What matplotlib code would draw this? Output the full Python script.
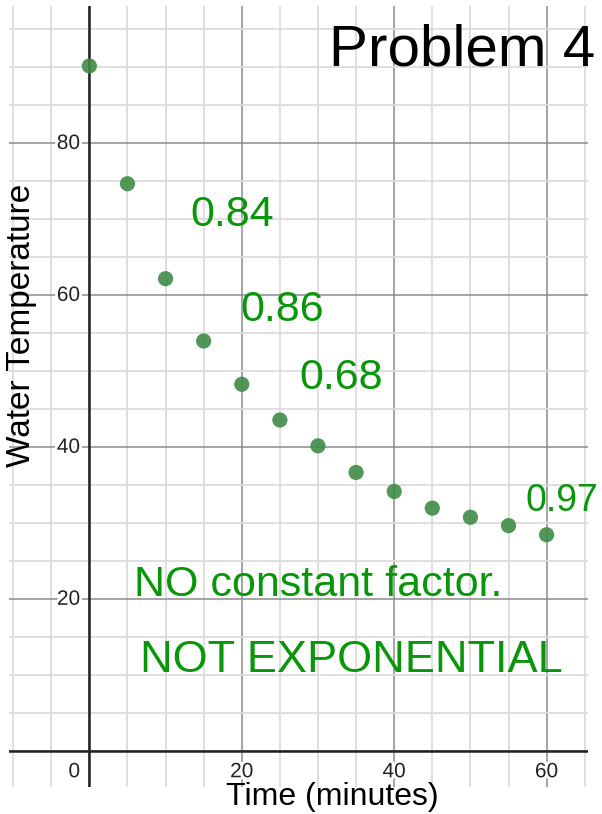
import numpy as np
import matplotlib.pyplot as plt
import matplotlib.patheffects as pe

# data
time_min = [0, 5, 10, 15, 20, 25, 30, 35, 40, 45, 50, 55, 60]
water_temp = [90.2, 74.7, 62.2, 54.0, 48.3, 43.6, 40.2, 36.7, 34.2, 32.0, 30.8, 29.7, 28.5]

x_ticks = [20, 40, 60]
y_ticks = [20, 40, 60, 80]

# handwritten notes: text, x, y (data units)
notes = ["0.84", "0.86", "0.68", "0.97"]
note_x = [13.2, 19.8, 27.6, 57.2]
note_y = [70.6, 58.1, 49.1, 32.9]
note_size = [31, 31, 31, 27]

plt.rcParams['font.family'] = ['Liberation Sans', 'DejaVu Sans']
ink = '#0a960a'

fig = plt.figure(figsize=(6.02, 8.14), dpi=100)
ax = fig.add_axes([0.015, 0.0332, 0.962, 0.9595])

# grid
ax.set_xticks(np.arange(-10, 66, 5), minor=True)
ax.set_yticks(np.arange(-5, 99, 5), minor=True)
ax.set_xticks(np.arange(0, 66, 20))
ax.set_yticks(np.arange(0, 99, 20))
ax.set_xlim(-10.54, 65.45)
ax.set_ylim(-4.7, 98.1)
ax.grid(which='minor', color='#dcdcdc', lw=1.3)
ax.grid(which='major', color='#8c8c8c', lw=1.1)
ax.tick_params(which='both', length=0, labelbottom=False, labelleft=False)
for s in ax.spines.values():
    s.set_visible(False)
ax.axhline(0, color='#222222', lw=1.8, zorder=2)
ax.axvline(0, color='#222222', lw=1.8, zorder=2)

halo = [pe.withStroke(linewidth=4, foreground='white')]
for t in x_ticks:
    ax.text(t, -2.7, str(t), ha='center', va='center', fontsize=15,
            color='#222222', path_effects=halo, zorder=3)
for t in y_ticks:
    ax.text(-1.2, t, str(t), ha='right', va='center', fontsize=15,
            color='#222222', path_effects=halo, zorder=3)
ax.text(-1.2, -2.7, "0", ha='right', va='center', fontsize=15,
        color='#222222', path_effects=halo, zorder=3)

ax.scatter(time_min, water_temp, s=120, color='#3f8c47', alpha=0.9,
           edgecolors='none', zorder=4)

fig.text(332 / 602, 1 - 797 / 814, "Time (minutes)", ha='center', va='center', fontsize=23)
fig.text(22 / 602, 1 - 325 / 814, "Water Temperature", ha='center', va='center',
         rotation=90, fontsize=24)
fig.text(595 / 602, 1 - 50 / 814, "Problem 4", ha='right', va='center', fontsize=42)

for txt, nx, ny, fs in zip(notes, note_x, note_y, note_size):
    ax.text(nx, ny, txt, fontsize=fs, color=ink, ha='left', va='center', zorder=5)
ax.text(5.9, 21.9, "NO constant factor.", fontsize=31, color=ink,
        ha='left', va='center', zorder=5)
ax.text(6.6, 12.0, "NOT EXPONENTIAL", fontsize=32.5, color=ink,
        ha='left', va='center', zorder=5)

fig.savefig("out.png", dpi=100)
